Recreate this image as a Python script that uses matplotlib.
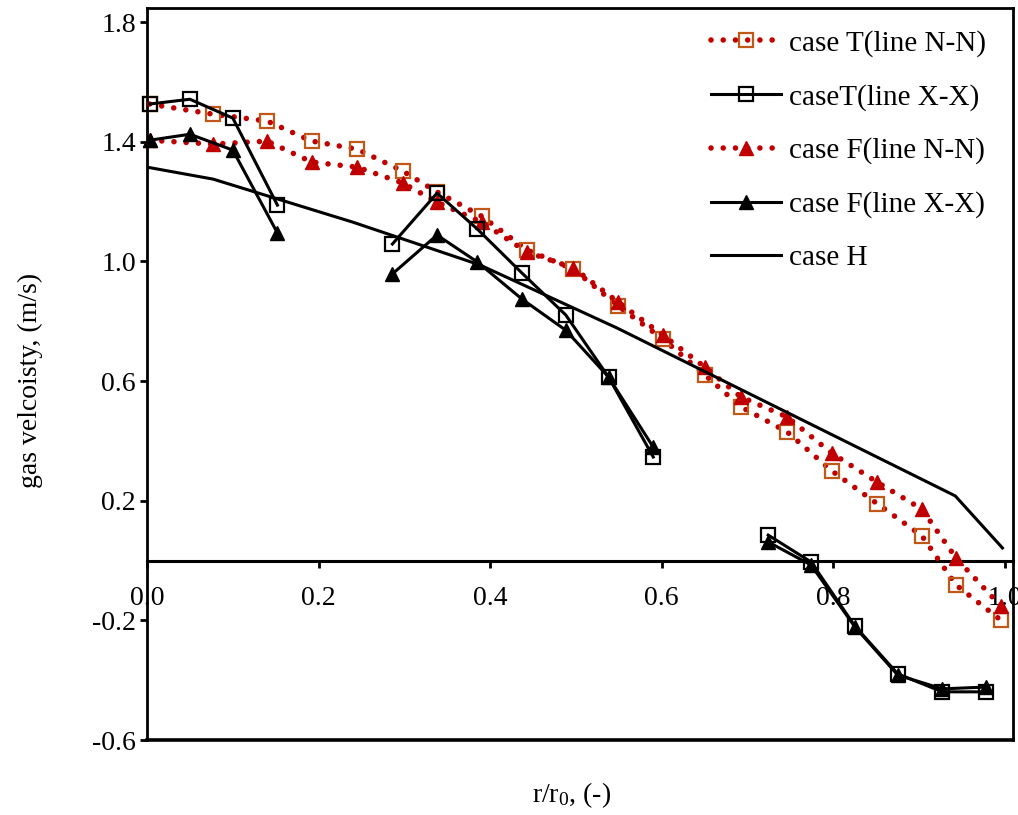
import numpy as np
import matplotlib
matplotlib.use("Agg")
import matplotlib.pyplot as plt

plt.rcParams['font.family'] = ['Liberation Serif', 'DejaVu Serif']
plt.rcParams['mathtext.fontset'] = 'custom'
plt.rcParams['mathtext.rm'] = 'Liberation Serif'
plt.rcParams['mathtext.it'] = 'Liberation Serif:italic'

# ---- data ----
x_nn = [0.003, 0.077, 0.140, 0.192, 0.245, 0.298, 0.338, 0.390, 0.443, 0.497,
        0.549, 0.601, 0.650, 0.692, 0.746, 0.798, 0.851, 0.903, 0.943, 0.995]
t_nn = [1.526, 1.492, 1.469, 1.402, 1.375, 1.302, 1.232, 1.151, 1.038, 0.974,
        0.851, 0.741, 0.621, 0.514, 0.430, 0.300, 0.190, 0.083, -0.082, -0.199]
f_nn = [1.405, 1.392, 1.402, 1.332, 1.315, 1.262, 1.198, 1.131, 1.031, 0.978,
        0.864, 0.754, 0.647, 0.547, 0.480, 0.359, 0.262, 0.172, 0.008, -0.152]

nan = np.nan
x_xx = [0.003, 0.050, 0.100, 0.152, nan,
        0.286, 0.338, 0.385, 0.437, 0.488, 0.538, 0.590, nan,
        0.724, 0.774, 0.825, 0.875, 0.927, 0.978]
t_xx = [1.526, 1.542, 1.479, 1.188, nan,
        1.058, 1.228, 1.108, 0.961, 0.821, 0.613, 0.346, nan,
        0.085, -0.005, -0.219, -0.379, -0.439, -0.439]
f_xx = [1.405, 1.425, 1.372, 1.095, nan,
        0.958, 1.088, 0.998, 0.874, 0.770, 0.613, 0.379, nan,
        0.062, -0.015, -0.222, -0.383, -0.429, -0.423]

x_h = [0.0, 0.077, 0.240, 0.388, 0.548, 0.942, 0.997]
h_v = [1.315, 1.275, 1.131, 0.988, 0.777, 0.216, 0.042]

labels = ["case T(line N-N)", "caseT(line X-X)", "case F(line N-N)",
          "case F(line X-X)", "case H"]
xticks = [0.0, 0.2, 0.4, 0.6, 0.8, 1.0]
xticklabels = ["0.0", "0.2", "0.4", "0.6", "0.8", "1.0"]
yticks = [-0.6, -0.2, 0.2, 0.6, 1.0, 1.4, 1.8]
yticklabels = ["-0.6", "-0.2", "0.2", "0.6", "1.0", "1.4", "1.8"]

# ---- figure ----
fig = plt.figure(figsize=(10.18, 8.15), dpi=100)
ax = fig.add_axes([147/1018, 75/815, 866/1018, 732/815])

red = '#C00000'
orange = '#C0581A'
fs = 20
dot_style = (0, (0.001, 2.2))

ax.plot(x_nn, t_nn, linestyle=dot_style, dash_capstyle='round', color=red, lw=4.0,
        marker='s', ms=9.5, mfc='none', mec=orange, mew=1.6, label=labels[0],
        clip_on=False, zorder=3)
ax.plot(x_xx, t_xx, '-', color='black', lw=2.2,
        marker='s', ms=9.5, mfc='none', mec='black', mew=1.6, label=labels[1],
        clip_on=False, zorder=4)
ax.plot(x_nn, f_nn, linestyle=dot_style, dash_capstyle='round', color=red, lw=4.0,
        marker='^', ms=10.5, mfc=red, mec=red, mew=1, label=labels[2],
        clip_on=False, zorder=3)
ax.plot(x_xx, f_xx, '-', color='black', lw=2.2,
        marker='^', ms=10.5, mfc='black', mec='black', mew=1, label=labels[3],
        clip_on=False, zorder=4)
ax.plot(x_h, h_v, '-', color='black', lw=2.2, label=labels[4], zorder=4)

ax.set_xlim(0, 1.0093)
ax.set_ylim(-0.6, 1.847)

for s in ['left', 'top', 'right']:
    ax.spines[s].set_linewidth(2.0)
    ax.spines[s].set_color('black')
ax.spines['bottom'].set_position(('data', 0))
ax.spines['bottom'].set_linewidth(2.2)
ax.axhline(-0.6, color='black', lw=2.6, clip_on=False, zorder=5)

ax.set_xticks(xticks)
ax.set_xticklabels(xticklabels)
ax.set_yticks(yticks)
ax.set_yticklabels(yticklabels)
ax.tick_params(axis='x', direction='out', length=5, width=2, pad=13, labelsize=fs)
ax.tick_params(axis='y', direction='out', length=5, width=2, pad=3, labelsize=fs)
ax.yaxis.set_ticks_position('left')
ax.xaxis.set_ticks_position('bottom')

leg = ax.legend(loc='upper left', bbox_to_anchor=(0.628, 0.998), frameon=False,
                prop={'size': 21}, handlelength=2.4, handletextpad=0.25,
                labelspacing=0.92, numpoints=1, borderpad=0.2)

fig.text(572/1018, 1 - 795/815, r"r/r$_{\mathrm{0}}$, (-)", fontsize=fs,
         ha='center', va='center')
fig.text(30/1018, 1 - 380/815, "gas velcoisty, (m/s)", fontsize=fs,
         rotation=90, ha='center', va='center')

fig.savefig("out.png", dpi=100)
